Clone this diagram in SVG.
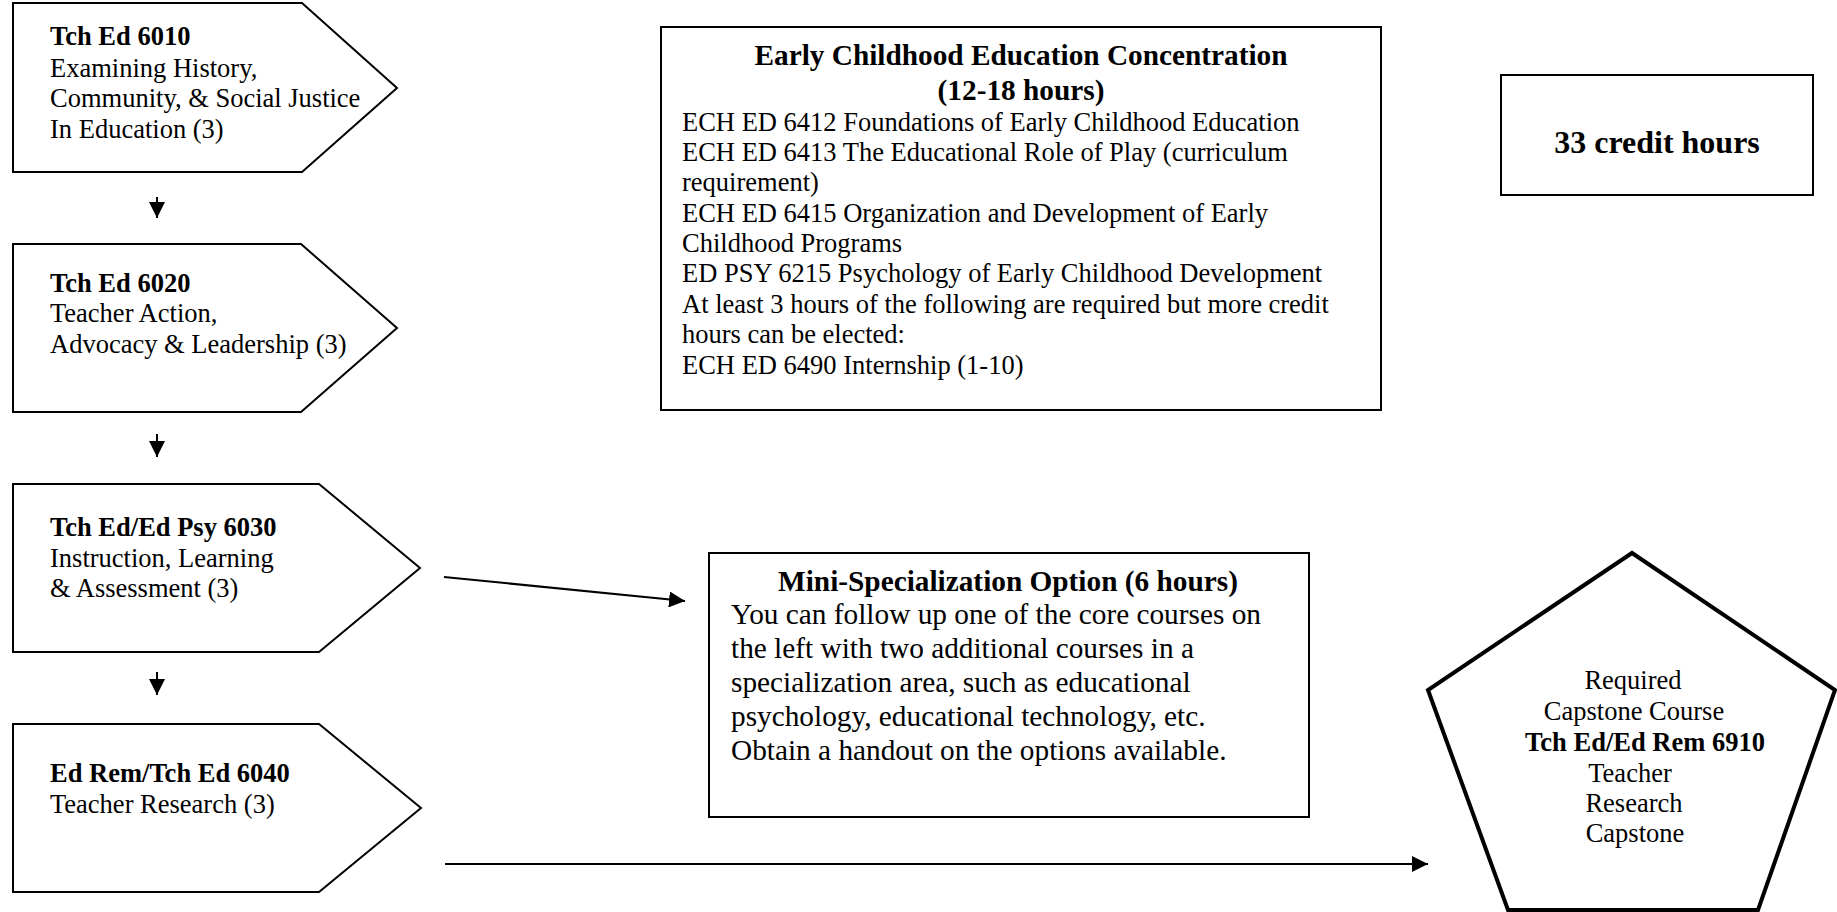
<svg xmlns="http://www.w3.org/2000/svg" width="1837" height="912" viewBox="0 0 1837 912">
<defs>
<style>
.shape{fill:#fff;stroke:#000;stroke-width:2}
.penta{fill:#fff;stroke:#000;stroke-width:4;stroke-linejoin:miter}
.conn{stroke:#000;stroke-width:2;fill:none}
text{font-family:"Liberation Serif","Times New Roman",serif;fill:#000}
.t{font-size:26.5px}
.b{font-weight:bold}
.m{font-size:29.3px}
.c{text-anchor:middle}
</style>
<marker id="ah" markerUnits="userSpaceOnUse" markerWidth="17" markerHeight="16" refX="16" refY="8" orient="auto">
<path d="M0,0 L16,8 L0,16 z" fill="#000"/>
</marker>
</defs>
<rect width="1837" height="912" fill="#fff"/>
<g id="connectors">
<line class="conn" x1="157" y1="197" x2="157" y2="218" marker-end="url(#ah)"/>
<line class="conn" x1="157" y1="434" x2="157" y2="457" marker-end="url(#ah)"/>
<line class="conn" x1="157" y1="672" x2="157" y2="695" marker-end="url(#ah)"/>
<line class="conn" x1="444" y1="577" x2="685" y2="601" marker-end="url(#ah)"/>
<line class="conn" x1="445" y1="864" x2="1428" y2="864" marker-end="url(#ah)"/>
</g>
<g id="tched6010">
<polygon class="shape" points="13,3 302,3 397,88 302,172 13,172"/>
<text class="t b" x="50" y="45">Tch Ed 6010</text>
<text class="t" x="50" y="76.5">Examining History,</text>
<text class="t" x="50" y="107">Community, &amp; Social Justice</text>
<text class="t" x="50" y="137.5">In Education (3)</text>
</g>
<g id="tched6020">
<polygon class="shape" points="13,244 301,244 397,328 301,412 13,412"/>
<text class="t b" x="50" y="292">Tch Ed 6020</text>
<text class="t" x="50" y="322">Teacher Action,</text>
<text class="t" x="50" y="352.5">Advocacy &amp; Leadership (3)</text>
</g>
<g id="tched6030">
<polygon class="shape" points="13,484 319,484 420,568 319,652 13,652"/>
<text class="t b" x="50" y="536">Tch Ed/Ed Psy 6030</text>
<text class="t" x="50" y="566.5">Instruction, Learning</text>
<text class="t" x="50" y="597">&amp; Assessment (3)</text>
</g>
<g id="edrem6040">
<polygon class="shape" points="13,724 319,724 421,808 319,892 13,892"/>
<text class="t b" x="50" y="782">Ed Rem/Tch Ed 6040</text>
<text class="t" x="50" y="813">Teacher Research (3)</text>
</g>
<g id="ece">
<rect class="shape" x="661" y="27" width="720" height="383"/>
<text class="m b c" x="1021" y="65">Early Childhood Education Concentration</text>
<text class="m b c" x="1021" y="100">(12-18 hours)</text>
<text class="t" x="682" y="131">ECH ED 6412 Foundations of Early Childhood Education</text>
<text class="t" x="682" y="161">ECH ED 6413 The Educational Role of Play (curriculum</text>
<text class="t" x="682" y="191">requirement)</text>
<text class="t" x="682" y="222">ECH ED 6415 Organization and Development of Early</text>
<text class="t" x="682" y="252">Childhood Programs</text>
<text class="t" x="682" y="282">ED PSY 6215 Psychology of Early Childhood Development</text>
<text class="t" x="682" y="313">At least 3 hours of the following are required but more credit</text>
<text class="t" x="682" y="343">hours can be elected:</text>
<text class="t" x="682" y="374">ECH ED 6490 Internship (1-10)</text>
</g>
<g id="credits">
<rect class="shape" x="1501" y="75" width="312" height="120"/>
<text class="b c" style="font-size:32px" x="1657" y="153">33 credit hours</text>
</g>
<g id="mini">
<rect class="shape" x="709" y="553" width="600" height="264"/>
<text class="m b c" x="1008" y="591">Mini-Specialization Option (6 hours)</text>
<text class="m" x="731" y="624">You can follow up one of the core courses on</text>
<text class="m" x="731" y="658">the left with two additional courses in a</text>
<text class="m" x="731" y="692">specialization area, such as educational</text>
<text class="m" x="731" y="726">psychology, educational technology, etc.</text>
<text class="m" x="731" y="760">Obtain a handout on the options available.</text>
</g>
<g id="capstone">
<polygon class="penta" points="1632,553 1835,690 1758,910 1508,910 1428,690"/>
<text class="t c" x="1633" y="689">Required</text>
<text class="t c" x="1634" y="720">Capstone Course</text>
<text class="t b c" x="1645" y="751">Tch Ed/Ed Rem 6910</text>
<text class="t c" x="1630" y="782">Teacher</text>
<text class="t c" x="1634" y="812">Research</text>
<text class="t c" x="1635" y="842">Capstone</text>
</g>
</svg>
